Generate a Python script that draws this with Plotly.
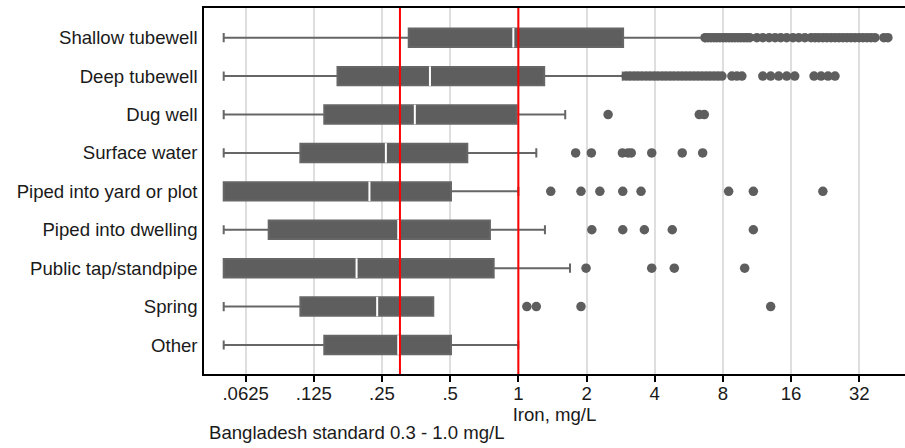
import plotly.graph_objects as go

categories = ["Shallow tubewell", "Deep tubewell", "Dug well", "Surface water",
              "Piped into yard or plot", "Piped into dwelling",
              "Public tap/standpipe", "Spring", "Other"]

lower_fence = [0.05, 0.05, 0.05, 0.05, 0.05, 0.05, 0.05, 0.05, 0.05]
q1 = [0.328, 0.159, 0.139, 0.109, 0.05, 0.079, 0.05, 0.109, 0.139]
median = [0.95, 0.407, 0.349, 0.260, 0.220, 0.295, 0.193, 0.238, 0.295]
q3 = [2.90, 1.30, 0.983, 0.595, 0.504, 0.749, 0.778, 0.421, 0.504]
upper_fence = [6.69, 2.89, 1.61, 1.20, 1.0, 1.31, 1.69, 0.421, 1.0]

out_shallow = [6.67, 6.87, 7.09, 7.31, 7.53, 7.76, 8.01, 8.25, 8.51, 8.77, 9.04,
               9.33, 9.61, 9.91, 10.2, 10.5, 11.3, 12.0, 12.8, 13.6, 14.4, 15.3,
               16.3, 17.3, 18.4, 19.6, 20.4, 21.2, 22.1, 23.0, 24.0, 25.0, 26.0,
               27.1, 28.2, 29.4, 30.6, 31.9, 33.2, 34.6, 36.0, 37.5, 41.1, 42.8]
out_deep = [2.99, 3.11, 3.24, 3.37, 3.51, 3.66, 3.81, 3.97, 4.13, 4.31, 4.48,
            4.67, 4.86, 5.07, 5.28, 5.50, 5.72, 5.96, 6.21, 6.47, 6.74, 7.01,
            7.31, 7.61, 7.92, 8.76, 9.22, 9.70, 12.0, 13.0, 14.1, 15.3, 16.6,
            20.2, 21.7, 23.3, 25.0]
out_dug = [2.49, 6.29, 6.62]
out_surface = [1.79, 2.10, 2.88, 3.05, 3.15, 3.88, 5.29, 6.51]
out_yard = [1.39, 1.89, 2.29, 2.89, 3.48, 8.48, 10.9, 22.1]
out_dwelling = [2.11, 2.89, 3.60, 4.78, 10.9]
out_public = [1.99, 3.88, 4.88, 9.98]
out_spring = [1.09, 1.20, 1.89, 13.0]
out_other = []

outliers = [out_shallow, out_deep, out_dug, out_surface, out_yard,
            out_dwelling, out_public, out_spring, out_other]

tick_vals = [0.0625, 0.125, 0.25, 0.5, 1, 2, 4, 8, 16, 32]
tick_text = [".0625", ".125", ".25", ".5", "1", "2", "4", "8", "16", "32"]
standards = [0.3, 1.0]

GRAY = "#5e5e5e"
FONT = "Liberation Sans, Arial, sans-serif"
FS = 18.6

fig = go.Figure()

fig.add_trace(go.Box(
    y=categories, q1=q1, median=median, q3=q3,
    lowerfence=lower_fence, upperfence=upper_fence,
    orientation="h", boxpoints=False, width=0.48, whiskerwidth=0.5,
    fillcolor=GRAY, line=dict(color="#666666", width=2),
    showlegend=False, hoverinfo="skip"))

ox, oy = [], []
for cat, vals in zip(categories, outliers):
    for v in vals:
        ox.append(v)
        oy.append(cat)
fig.add_trace(go.Scatter(
    x=ox, y=oy, mode="markers",
    marker=dict(color=GRAY, size=9.5, line=dict(width=0)),
    showlegend=False, hoverinfo="skip"))

fig.add_trace(go.Scatter(
    x=median, y=categories, mode="markers",
    marker=dict(symbol="line-ns", size=14, color="white",
                line=dict(color="white", width=2)),
    showlegend=False, hoverinfo="skip"))

for s in standards:
    fig.add_shape(type="line", xref="x", yref="paper", x0=s, x1=s, y0=0, y1=1,
                  line=dict(color="#ff0000", width=2), layer="above")

fig.add_annotation(text="Bangladesh standard 0.3 - 1.0 mg/L",
                   xref="paper", yref="paper", x=0, y=-0.1585,
                   xanchor="left", yanchor="middle", xshift=3, showarrow=False,
                   font=dict(family=FONT, size=FS, color="#1a1a1a"))

fig.update_layout(
    width=905, height=448,
    margin=dict(l=204, r=0, t=8, b=74),
    paper_bgcolor="white", plot_bgcolor="white",
    font=dict(family=FONT, size=FS, color="#1a1a1a"),
    xaxis=dict(type="log", range=[-1.388, 1.707],
               tickvals=tick_vals, ticktext=tick_text,
               showgrid=True, gridcolor="#dedede", gridwidth=1.5,
               showline=True, linecolor="black", linewidth=1.5, mirror=True,
               ticks="outside", ticklen=6, tickcolor="black", tickwidth=1.5,
               ticklabelstandoff=-4, zeroline=False,
               title=dict(text="Iron, mg/L", standoff=0,
                          font=dict(family=FONT, size=FS, color="#1a1a1a"))),
    yaxis=dict(type="category", categoryorder="array", categoryarray=categories,
               range=[8.755, -0.773], showgrid=False,
               showline=True, linecolor="black", linewidth=1.5,
               ticks="", ticklabelstandoff=1, zeroline=False),
)

fig.write_html("out.html")
